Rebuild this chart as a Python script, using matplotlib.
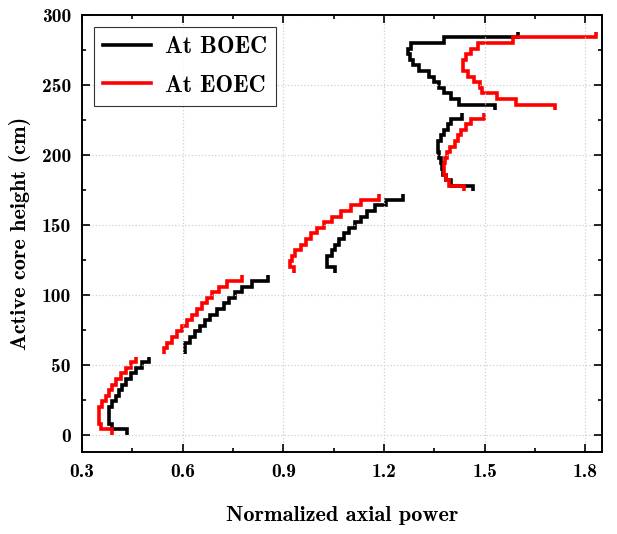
import matplotlib
matplotlib.use("Agg")
import matplotlib.pyplot as plt
from matplotlib.ticker import MultipleLocator

# ── data: axial power per 4 cm node, five zones, bottom to top ──
zone_edges = [
    [0, 4, 8, 12, 16, 20, 24, 28, 32, 36, 40, 44, 48, 52, 56],
    [58, 62, 66, 70, 74, 78, 82, 86, 90, 94, 98, 102, 106, 110, 114],
    [116, 120, 124, 128, 132, 136, 140, 144, 148, 152, 156, 160, 164, 168, 172],
    [174, 178, 182, 186, 190, 194, 198, 202, 206, 210, 214, 218, 222, 226, 230],
    [232, 236, 240, 244, 248, 252, 256, 260, 264, 268, 272, 276, 280, 284, 288],
]

boec = [
    [0.435, 0.39, 0.38, 0.38, 0.38, 0.39, 0.40, 0.41, 0.42, 0.43, 0.445, 0.46, 0.48, 0.50],
    [0.607, 0.607, 0.622, 0.637, 0.652, 0.667, 0.682, 0.702, 0.722, 0.737, 0.757, 0.777, 0.807, 0.853],
    [1.055, 1.03, 1.03, 1.045, 1.055, 1.067, 1.08, 1.095, 1.112, 1.13, 1.15, 1.173, 1.205, 1.255],
    [1.466, 1.40, 1.385, 1.375, 1.372, 1.37, 1.365, 1.36, 1.362, 1.37, 1.38, 1.39, 1.40, 1.433],
    [1.531, 1.424, 1.40, 1.38, 1.365, 1.35, 1.335, 1.305, 1.285, 1.278, 1.272, 1.28, 1.38, 1.60],
]

eoec = [
    [0.39, 0.355, 0.35, 0.35, 0.35, 0.36, 0.37, 0.38, 0.39, 0.40, 0.415, 0.43, 0.445, 0.46],
    [0.543, 0.553, 0.568, 0.583, 0.598, 0.613, 0.628, 0.643, 0.658, 0.673, 0.688, 0.708, 0.733, 0.777],
    [0.931, 0.92, 0.925, 0.936, 0.951, 0.966, 0.981, 1.001, 1.021, 1.046, 1.071, 1.101, 1.131, 1.185],
    [1.438, 1.393, 1.385, 1.38, 1.38, 1.383, 1.388, 1.395, 1.41, 1.42, 1.43, 1.445, 1.46, 1.498],
    [1.709, 1.593, 1.538, 1.493, 1.485, 1.468, 1.45, 1.435, 1.435, 1.445, 1.46, 1.48, 1.583, 1.831],
]

labels = ["At BOEC", "At EOEC"]
colors = ["black", "#FF0000"]

plt.rcParams["font.family"] = ["cmb10", "DejaVu Serif"]
plt.rcParams["axes.unicode_minus"] = False

fig = plt.figure(figsize=(6.17, 5.34), dpi=100)
ax = fig.add_axes([0.133, 0.154, 0.843, 0.818])

for series, label, color in zip([boec, eoec], labels, colors):
    for i, (vals, edges) in enumerate(zip(series, zone_edges)):
        ax.stairs(vals, edges, orientation="horizontal", baseline=None,
                  color=color, linewidth=2.6, label=label if i == 0 else None)

ax.set_xlim(0.3, 1.85)
ax.set_ylim(-12, 300)
ax.xaxis.set_major_locator(MultipleLocator(0.3))
ax.xaxis.set_minor_locator(MultipleLocator(0.15))
ax.yaxis.set_major_locator(MultipleLocator(50))
ax.yaxis.set_minor_locator(MultipleLocator(25))
ax.set_xticks([0.3, 0.6, 0.9, 1.2, 1.5, 1.8])
ax.set_xticklabels(["0.3", "0.6", "0.9", "1.2", "1.5", "1.8"])

ax.grid(True, which="major", linestyle=":", color="#D0D0D0", linewidth=0.9)
ax.tick_params(which="both", direction="in", top=True, right=True, labelsize=14,
               width=1.2, pad=8)
ax.tick_params(which="major", length=6)
ax.tick_params(which="minor", length=3)
for sp in ax.spines.values():
    sp.set_linewidth(1.4)

ax.set_xlabel("Normalized axial power", fontsize=16, labelpad=18)
ax.set_ylabel("Active core height (cm)", fontsize=16, labelpad=8)

leg = ax.legend(loc="upper left", fontsize=17, frameon=True, fancybox=False,
                edgecolor="black", handlelength=2.0, borderaxespad=0.5,
                handletextpad=0.6, labelspacing=0.7)
leg.get_frame().set_linewidth(0.8)

fig.savefig("out.png", dpi=100)
